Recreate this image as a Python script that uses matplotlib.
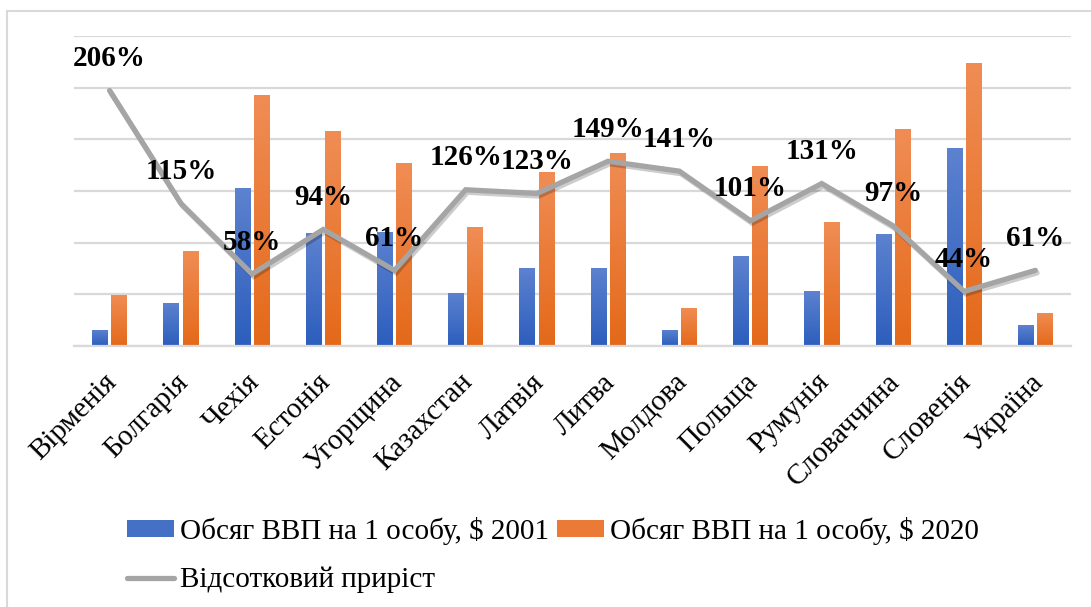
import matplotlib
matplotlib.use('Agg')
import matplotlib.pyplot as plt
import matplotlib.patheffects as pe
from matplotlib.colors import LinearSegmentedColormap
from matplotlib.patches import Patch, Rectangle
from matplotlib.lines import Line2D
from matplotlib.transforms import ScaledTranslation
import numpy as np

# data
countries = ['Вірменія', 'Болгарія', 'Чехія', 'Естонія', 'Угорщина', 'Казахстан',
             'Латвія', 'Литва', 'Молдова', 'Польща', 'Румунія', 'Словаччина',
             'Словенія', 'Україна']
gdp_2001 = [1550, 4170, 15300, 10950, 11050, 5140, 7560, 7560, 1550, 8700, 5300,
            10850, 19200, 2030]
gdp_2020 = [4940, 9200, 24300, 20800, 17700, 11500, 16800, 18700, 3700, 17400,
            12000, 21000, 27400, 3200]
growth_pct = [206, 115, 58, 94, 61, 126, 123, 149, 141, 101, 131, 97, 44, 61]

label_2001 = 'Обсяг ВВП на 1 особу, $ 2001'
label_2020 = 'Обсяг ВВП на 1 особу, $ 2020'
label_growth = 'Відсотковий приріст'

BLUE_TOP, BLUE_BOTTOM = '#5d82cf', '#2c5ebd'
ORANGE_TOP, ORANGE_BOTTOM = '#f08d55', '#e46919'
LINE_GRAY = '#a5a5a5'
GRID_GRAY = '#d9d9d9'

plt.rcParams['font.family'] = ['Liberation Serif', 'DejaVu Serif']

W, H = 1091, 607


def gradient_fill(ax, bars, top_color, bottom_color):
    """Paint each bar with a vertical gradient (lighter on top)"""
    cmap = LinearSegmentedColormap.from_list('grad', [bottom_color, top_color])
    grad = np.linspace(0, 1, 256).reshape(-1, 1)
    for b in bars:
        x0, w, h = b.get_x(), b.get_width(), b.get_height()
        im = ax.imshow(grad, cmap=cmap, origin='lower', aspect='auto',
                       extent=(x0, x0 + w, 0, h), zorder=2,
                       interpolation='bilinear')
        im.set_clip_path(b)


fig = plt.figure(figsize=(W / 100, H / 100), dpi=100)
ax = fig.add_axes([74 / W, 1 - 346 / H, 997 / W, 310 / H])

x = np.arange(len(countries))
bw = 0.22
bars_2001 = ax.bar(x - 0.135, gdp_2001, bw, color=BLUE_BOTTOM, zorder=2)
bars_2020 = ax.bar(x + 0.135, gdp_2020, bw, color=ORANGE_BOTTOM, zorder=2)
gradient_fill(ax, bars_2001, BLUE_TOP, BLUE_BOTTOM)
gradient_fill(ax, bars_2020, ORANGE_TOP, ORANGE_BOTTOM)

ax.set_xlim(-0.5, len(countries) - 0.5)
ax.set_ylim(0, 30000)
ax.set_yticks(range(0, 30001, 5000))
ax.yaxis.grid(True, color=GRID_GRAY, lw=1.6)
ax.set_axisbelow(True)
ax.tick_params(axis='y', length=0, labelleft=False)
for s in ['top', 'right', 'left']:
    ax.spines[s].set_visible(False)
ax.spines['bottom'].set_color(GRID_GRAY)
ax.spines['bottom'].set_linewidth(1.6)

ax.set_xticks(x)
ax.set_xticklabels(countries, rotation=45, ha='right', va='top',
                   rotation_mode='anchor', fontsize=21)
ax.tick_params(axis='x', length=0, pad=0)
shift = ScaledTranslation(-0.06, -0.23, fig.dpi_scale_trans)
for lbl in ax.get_xticklabels():
    lbl.set_transform(lbl.get_transform() + shift)

# growth line on a hidden secondary axis
ax2 = ax.twinx()
ax2.set_ylim(0, 250)
ax2.set_yticks([])
for s in ax2.spines.values():
    s.set_visible(False)
ax2.plot(x, growth_pct, color=LINE_GRAY, lw=3.8, solid_joinstyle='miter',
         solid_capstyle='round',
         path_effects=[pe.SimpleLineShadow(offset=(1.2, -1.8), shadow_color='k', alpha=0.2),
                       pe.Normal()])
for i, p in enumerate(growth_pct):
    ax2.annotate(f'{p}%', (x[i], p), xytext=(0, 32), textcoords='offset pixels',
                 ha='center', va='center', fontsize=21, fontweight='bold')

handles = [Patch(facecolor='#4470c6', edgecolor='none'),
           Line2D([0], [0], color=LINE_GRAY, lw=3.8, solid_capstyle='round'),
           Patch(facecolor='#ea7a35', edgecolor='none')]
fig.legend(handles, [label_2001, label_growth, label_2020], ncol=2,
           loc='upper left', bbox_to_anchor=(127 / W, 1 - 517 / H),
           frameon=False, fontsize=21, handlelength=1.6, handleheight=0.5,
           handletextpad=0.2, columnspacing=0.3, labelspacing=0.75,
           borderpad=0, borderaxespad=0)

# light outer frame of the chart area
fig.add_artist(Rectangle((7 / W, -0.1), 1.2, 1.1 - 11 / H, transform=fig.transFigure,
                         fill=False, edgecolor=GRID_GRAY, lw=1.5))

fig.savefig('out.png', dpi=100)
